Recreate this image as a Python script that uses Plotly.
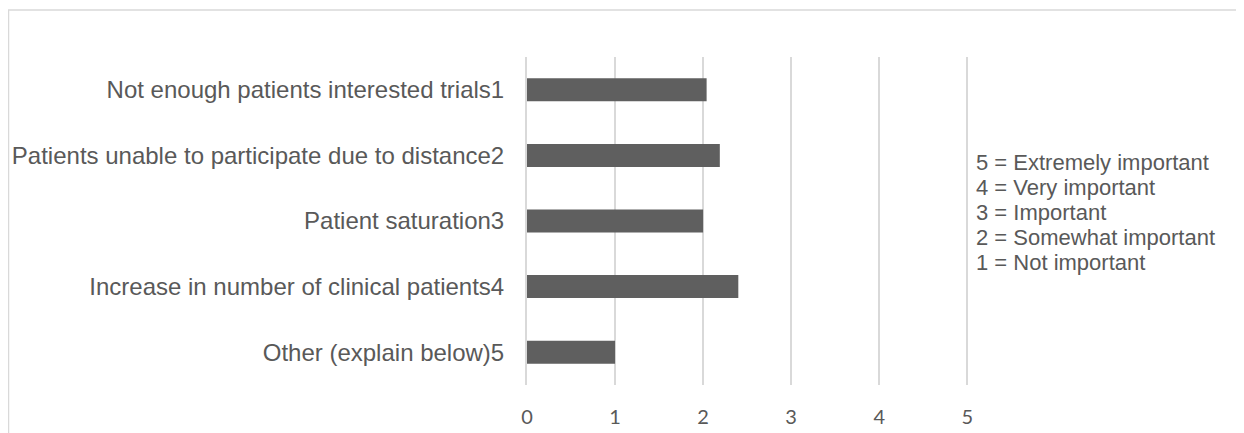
import plotly.graph_objects as go

categories = [
    "Not enough patients interested trials1",
    "Patients unable to participate due to distance2",
    "Patient saturation3",
    "Increase in number of clinical patients4",
    "Other (explain below)5",
]
values = [2.04, 2.19, 2.0, 2.4, 1.0]
x_ticks = [0, 1, 2, 3, 4, 5]
scale_lines = [
    "5 = Extremely important",
    "4 = Very important",
    "3 = Important",
    "2 = Somewhat important",
    "1 = Not important",
]

# figure is placed at (8, 8) in the page by the default body margin
W, H = 1244, 433
L, T, B = 519, 49, 56
X_MAX = 5.02
unit = 88.0
pw = unit * X_MAX
R = W - L - int(round(pw))
pw = W - L - R
ph = H - T - B


def px_x(x):
    return (x - L) / pw


def px_y(y):
    return (H - B - y) / ph


fig = go.Figure(
    go.Bar(
        x=values,
        y=categories,
        orientation="h",
        marker=dict(color="#5f5f5f", line=dict(width=0)),
        hoverinfo="x+y",
    )
)

annotations = []
for i, line in enumerate(scale_lines):
    annotations.append(
        dict(
            xref="paper",
            yref="paper",
            x=px_x(966),
            y=px_y(154 + 25 * i),
            xanchor="left",
            yanchor="middle",
            align="left",
            showarrow=False,
            text=line,
            font=dict(family="Liberation Sans, Arial, sans-serif", size=22, color="#595959"),
        )
    )

fig.update_layout(
    width=W,
    height=H,
    margin=dict(l=L, r=R, t=T, b=B, autoexpand=False),
    paper_bgcolor="white",
    plot_bgcolor="white",
    bargap=0.65,
    showlegend=False,
    xaxis=dict(
        range=[0, X_MAX],
        tickvals=x_ticks,
        ticktext=[str(v) for v in x_ticks],
        showgrid=True,
        gridcolor="#d9d9d9",
        gridwidth=1.5,
        zeroline=False,
        showline=False,
        ticks="",
        ticklabelstandoff=18,
        automargin=False,
        tickfont=dict(family="Lato, Open Sans, sans-serif", size=20, color="#595959"),
        fixedrange=True,
    ),
    yaxis=dict(
        categoryorder="array",
        categoryarray=categories,
        autorange="reversed",
        showgrid=False,
        zeroline=False,
        showline=True,
        linecolor="#d9d9d9",
        linewidth=2,
        ticks="",
        ticklabelstandoff=16,
        automargin=False,
        tickfont=dict(family="Liberation Sans, Arial, sans-serif", size=24, color="#595959"),
        fixedrange=True,
    ),
    shapes=[
        dict(
            type="rect",
            xref="paper",
            yref="paper",
            x0=px_x(0.5),
            x1=px_x(W + 20),
            y0=px_y(H + 20),
            y1=px_y(2),
            line=dict(color="#d9d9d9", width=1.5),
            fillcolor="rgba(0,0,0,0)",
            layer="below",
        )
    ],
    annotations=annotations,
)

fig.write_html("out.html")
